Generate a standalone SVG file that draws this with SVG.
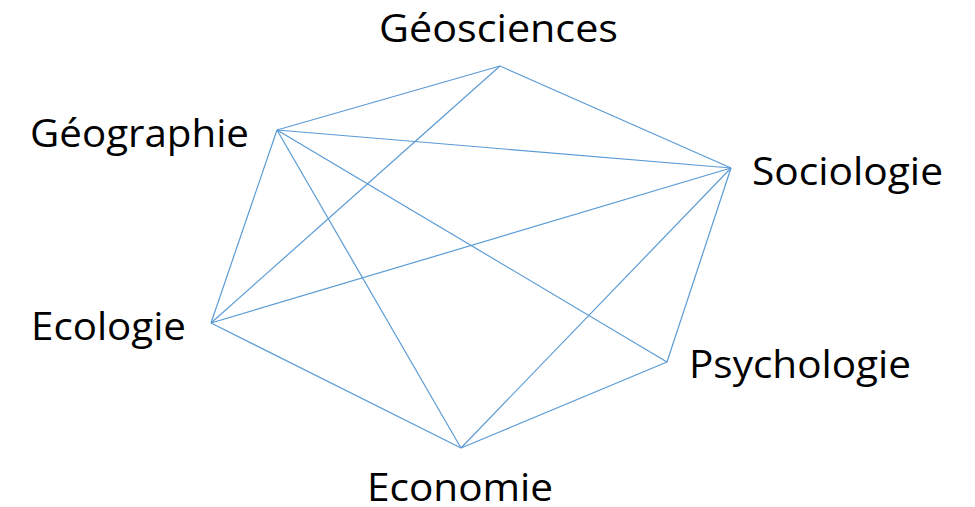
<svg xmlns="http://www.w3.org/2000/svg" width="975" height="507" viewBox="0 0 975 507">
<style>
.lbl{font-family:"Open Sans","Noto Sans","Liberation Sans",sans-serif;font-size:38px;fill:#000}
.e{stroke:#5B9BD5;stroke-width:1.2;fill:none}
</style>
<rect width="975" height="507" fill="#fff"/>
<g id="connectors">
<line class="e" x1="500" y1="66" x2="277" y2="130"/>
<line class="e" x1="500" y1="66" x2="731" y2="168"/>
<line class="e" x1="500" y1="66" x2="211" y2="323"/>
<line class="e" x1="277" y1="130" x2="731" y2="168"/>
<line class="e" x1="277" y1="130" x2="211" y2="323"/>
<line class="e" x1="277" y1="130" x2="461" y2="448"/>
<line class="e" x1="277" y1="130" x2="667" y2="362"/>
<line class="e" x1="731" y1="168" x2="211" y2="323"/>
<line class="e" x1="731" y1="168" x2="667" y2="362"/>
<line class="e" x1="731" y1="168" x2="461" y2="448"/>
<line class="e" x1="211" y1="323" x2="461" y2="448"/>
<line class="e" x1="667" y1="362" x2="461" y2="448"/>
</g>
<g id="geosciences"><text class="lbl" x="379" y="42" textLength="239" lengthAdjust="spacingAndGlyphs">Géosciences</text></g>
<g id="geographie"><text class="lbl" x="30" y="147" textLength="219" lengthAdjust="spacingAndGlyphs">Géographie</text></g>
<g id="sociologie"><text class="lbl" x="752" y="185" textLength="191" lengthAdjust="spacingAndGlyphs">Sociologie</text></g>
<g id="ecologie"><text class="lbl" x="31" y="340" textLength="155" lengthAdjust="spacingAndGlyphs">Ecologie</text></g>
<g id="psychologie"><text class="lbl" x="689" y="378" textLength="222" lengthAdjust="spacingAndGlyphs">Psychologie</text></g>
<g id="economie"><text class="lbl" x="367" y="501" textLength="186" lengthAdjust="spacingAndGlyphs">Economie</text></g>
</svg>
